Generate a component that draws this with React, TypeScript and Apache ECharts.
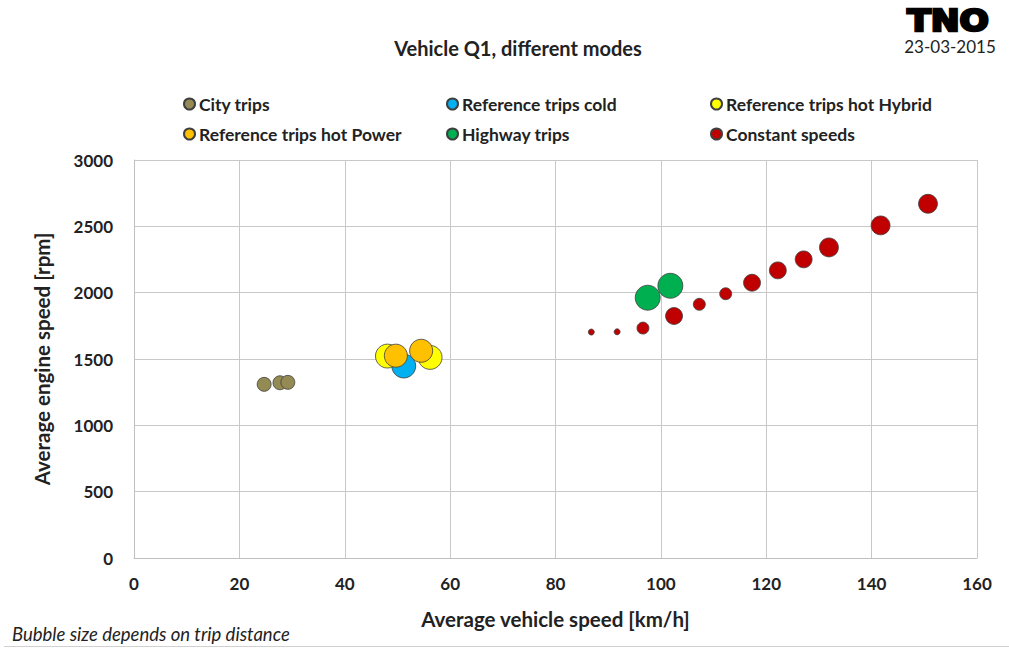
import React, { useEffect, useRef } from "react";
import * as echarts from "echarts";

// [speed km/h, engine rpm, trip distance km]
const cityTrips: number[][] = [
  [24.7, 1309, 19],
  [27.7, 1321, 19],
  [29.2, 1324, 19],
];
const refCold: number[][] = [[51.2, 1447, 56]];
const refHotHybrid: number[][] = [
  [48.1, 1522, 56],
  [56.2, 1512, 56],
];
const refHotPower: number[][] = [
  [49.7, 1525, 52],
  [54.5, 1562, 52],
];
const highwayTrips: number[][] = [
  [97.5, 1962, 61],
  [101.8, 2052, 61],
];
const constantSpeeds: number[][] = [
  [86.8, 1703, 3.5],
  [91.7, 1705, 3.5],
  [96.6, 1733, 14],
  [102.5, 1824, 28],
  [107.3, 1912, 14],
  [112.3, 1992, 14],
  [117.3, 2075, 28],
  [122.2, 2168, 28],
  [127.1, 2251, 28],
  [131.9, 2341, 35],
  [141.7, 2507, 35],
  [150.7, 2670, 35],
];

const seriesNames = [
  "City trips",
  "Reference trips cold",
  "Reference trips hot Hybrid",
  "Reference trips hot Power",
  "Highway trips",
  "Constant speeds",
];
const seriesColors = ["#948A54", "#00B0F0", "#FFFF00", "#FFC000", "#00B050", "#C00000"];
const seriesData = [cityTrips, refCold, refHotHybrid, refHotPower, highwayTrips, constantSpeeds];

const xTicks = { min: 0, max: 160, interval: 20 };
const yTicks = { min: 0, max: 3000, interval: 500 };

const FONT = "Lato, 'Open Sans', sans-serif";

export default function App() {
  const ref = useRef<HTMLDivElement>(null);
  useEffect(() => {
    document.body.style.margin = "0";
    const chart = echarts.init(ref.current!, null, { renderer: "svg" });
    const legendPos = [
      [183, 95],
      [446, 95],
      [710, 95],
      [183, 125],
      [446, 125],
      [710, 125],
    ];
    const legends = seriesNames.map((n, i) => ({
      data: [n],
      left: legendPos[i][0],
      top: legendPos[i][1],
      orient: "horizontal",
      itemWidth: 11,
      itemHeight: 11,
      itemGap: 4,
      icon: "circle",
      padding: 0,
      selectedMode: false,
      textStyle: { fontFamily: FONT, fontWeight: "bold", fontSize: 17.5, color: "#222", padding: [0, 0, 0, -1] },
    }));
    chart.setOption({
      animation: false,
      backgroundColor: "#ffffff",
      title: {
        text: "Vehicle Q1, different modes",
        left: 513,
        top: 33,
        textAlign: "center",
        textStyle: { fontFamily: FONT, fontWeight: "bold", fontSize: 20, color: "#222" },
      },
      legend: legends,
      grid: { left: 134, top: 160, right: 32, bottom: 90, containLabel: false },
      xAxis: {
        type: "value",
        min: xTicks.min,
        max: xTicks.max,
        interval: xTicks.interval,
        name: "Average vehicle speed [km/h]",
        nameLocation: "middle",
        nameGap: 50,
        nameTextStyle: { fontFamily: FONT, fontWeight: "bold", fontSize: 20.5, color: "#222" },
        axisLine: { show: true, lineStyle: { color: "#bfbfbf", width: 1 } },
        axisTick: { show: false },
        axisLabel: { fontFamily: FONT, fontWeight: "bold", fontSize: 17, color: "#222", margin: 17 },
        splitLine: { show: true, lineStyle: { color: "#c8c8c8", width: 1 } },
      },
      yAxis: {
        type: "value",
        min: yTicks.min,
        max: yTicks.max,
        interval: yTicks.interval,
        name: "Average engine speed [rpm]",
        nameLocation: "middle",
        nameGap: 82,
        nameRotate: 90,
        nameTextStyle: { fontFamily: FONT, fontWeight: "bold", fontSize: 20.5, color: "#222" },
        axisLine: { show: true, lineStyle: { color: "#bfbfbf", width: 1 } },
        axisTick: { show: false },
        axisLabel: {
          fontFamily: FONT,
          fontWeight: "bold",
          fontSize: 17,
          color: "#222",
          margin: 21,
          formatter: (v: number) => String(v),
        },
        splitLine: { show: true, lineStyle: { color: "#c8c8c8", width: 1 } },
      },
      series: seriesNames.map((n, i) => ({
        name: n,
        type: "scatter",
        data: seriesData[i],
        symbolSize: (v: number[]) => 3.2 * Math.sqrt(v[2]),
        itemStyle: {
          color: seriesColors[i],
          borderColor: "#3f3f3f",
          borderWidth: 0.8,
          opacity: 1,
        },
      })),
      graphic: [
        {
          type: "text",
          x: 948,
          y: 21,
          scaleX: 1.15,
          style: {
            text: "TNO",
            fontFamily: "'DejaVu Sans', sans-serif",
            fontWeight: 900,
            fontSize: 30,
            lineHeight: 26,
            fill: "#000",
            stroke: "#000",
            lineWidth: 2.5,
            align: "center",
            verticalAlign: "middle",
          },
        },
        {
          type: "text",
          x: 950,
          y: 46.5,
          style: {
            text: "23-03-2015",
            fontFamily: FONT,
            fontSize: 17,
            lineHeight: 16,
            fill: "#222",
            align: "center",
            verticalAlign: "middle",
          },
        },
        {
          type: "text",
          left: 12,
          top: 624,
          style: {
            text: "Bubble size depends on trip distance",
            fontFamily: FONT,
            fontStyle: "italic",
            fontSize: 18.5,
            fill: "#222",
          },
        },
        {
          type: "line",
          shape: { x1: 4, y1: 646.5, x2: 1009, y2: 646.5 },
          style: { stroke: "#d0d0d0", lineWidth: 1 },
        },
      ],
    });
    return () => chart.dispose();
  }, []);
  return <div ref={ref} style={{ position: "fixed", left: 0, top: 0, width: 1009, height: 648 }} />;
}
